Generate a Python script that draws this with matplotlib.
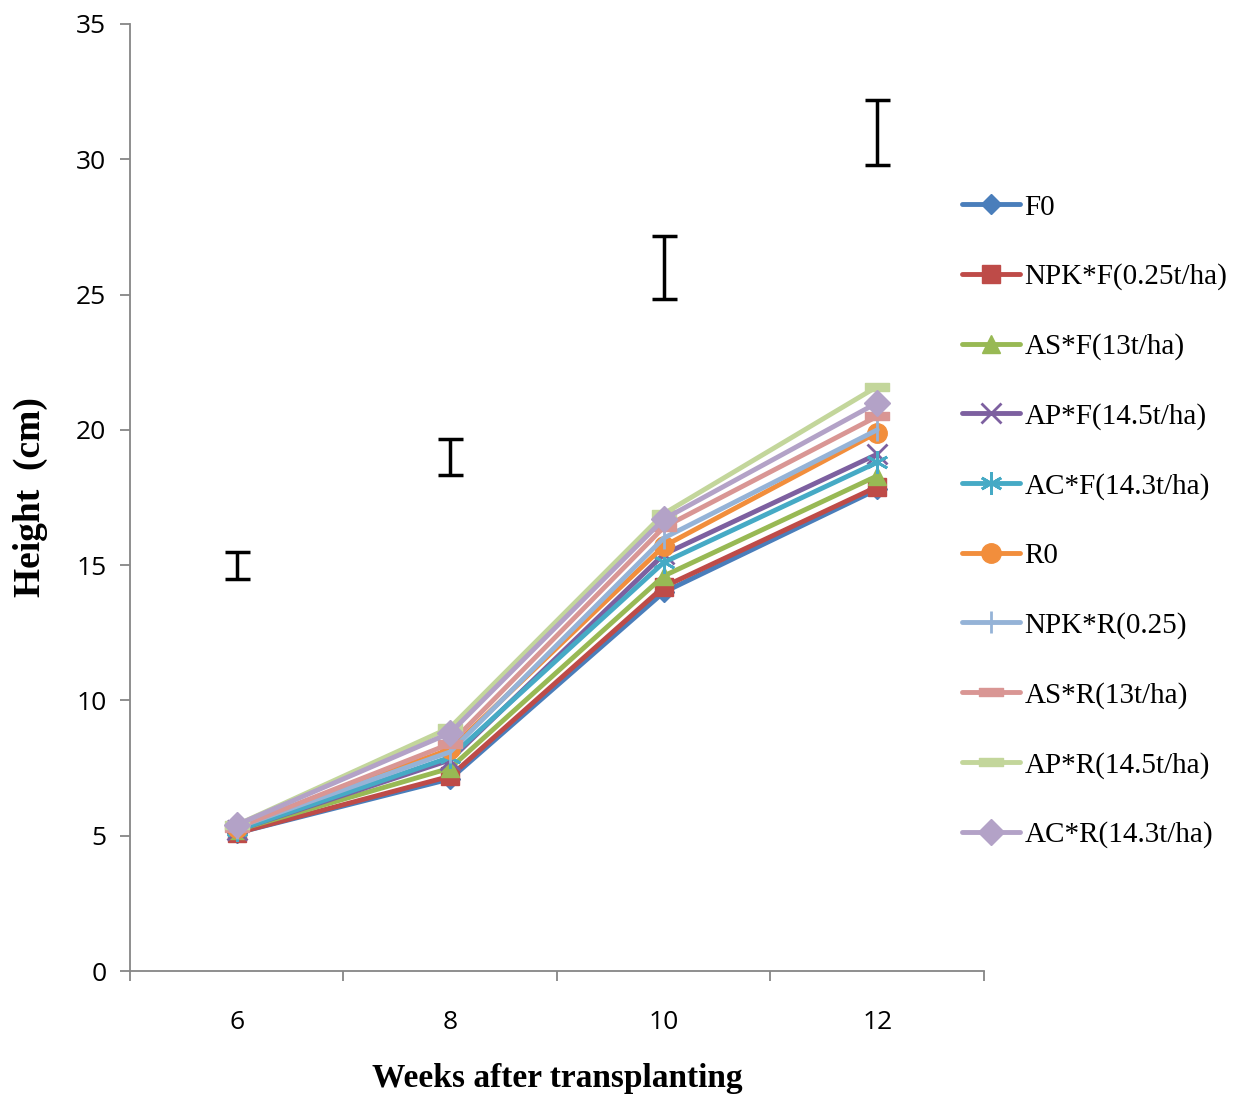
import matplotlib
matplotlib.use("Agg")
import matplotlib.pyplot as plt
import numpy as np
from matplotlib.path import Path

weeks = [6, 8, 10, 12]
labels = ["F0", "NPK*F(0.25t/ha)", "AS*F(13t/ha)", "AP*F(14.5t/ha)", "AC*F(14.3t/ha)",
          "R0", "NPK*R(0.25)", "AS*R(13t/ha)", "AP*R(14.5t/ha)", "AC*R(14.3t/ha)"]
F0 = [5.1, 7.1, 14.0, 17.8]
NPK_F = [5.1, 7.2, 14.2, 17.9]
AS_F = [5.2, 7.5, 14.6, 18.3]
AP_F = [5.2, 7.8, 15.4, 19.1]
AC_F = [5.2, 7.9, 15.1, 18.8]
R0 = [5.3, 8.2, 15.7, 19.9]
NPK_R = [5.3, 8.1, 16.0, 20.0]
AS_R = [5.3, 8.4, 16.4, 20.5]
AP_R = [5.4, 9.0, 16.9, 21.6]
AC_R = [5.4, 8.8, 16.7, 21.0]
series = [F0, NPK_F, AS_F, AP_F, AC_F, R0, NPK_R, AS_R, AP_R, AC_R]

lsd_center = [15.0, 19.0, 26.0, 31.0]
lsd_half = [0.5, 0.65, 1.15, 1.2]

colors = ["#4A7EBB", "#BE4B48", "#98B954", "#7D60A0", "#46AAC5",
          "#F28E3C", "#95B3D7", "#D99694", "#C3D69B", "#B3A2C7"]
dash = Path([(-1, -0.32), (1, -0.32), (1, 0.32), (-1, 0.32), (-1, -0.32)],
            [Path.MOVETO, Path.LINETO, Path.LINETO, Path.LINETO, Path.CLOSEPOLY])
markers = ["D", "s", "^", "x", (6, 2, 0), "o", "|", dash, dash, "D"]
msizes = [10, 13, 13, 14, 16, 14, 16, 17, 17, 13]

fig = plt.figure(figsize=(12.34, 10.95), dpi=100)
ax = fig.add_axes([0.1053, 0.1132, 0.6921, 0.8649])

handles = []
for s, c, m, ms, lab in zip(series, colors, markers, msizes, labels):
    mew = 2.0 if m in ("x", "|") or isinstance(m, tuple) else 1.0
    h, = ax.plot(weeks, s, color=c, lw=3.5, marker=m, ms=ms, mfc=c, mec=c, mew=mew,
                 label=lab, solid_capstyle="round")
    handles.append(h)

ax.errorbar(weeks, lsd_center, yerr=lsd_half, fmt="none", ecolor="black",
            elinewidth=2.5, capsize=9, capthick=2.5, zorder=5)

ax.set_xlim(5, 13)
ax.set_ylim(0, 35)
ax.set_yticks(np.arange(0, 36, 5))
ax.set_xticks([5, 7, 9, 11, 13])
ax.set_xticklabels([])
ax.set_xticks(weeks, minor=True)
ax.set_xticklabels([str(w) for w in weeks], minor=True)
for sp in ["top", "right"]:
    ax.spines[sp].set_visible(False)
for sp in ["left", "bottom"]:
    ax.spines[sp].set_color("#868686")
    ax.spines[sp].set_linewidth(1.3)
ax.tick_params(axis="both", which="major", direction="out", length=7, width=1.3,
               color="#868686", labelsize=19)
ax.tick_params(axis="x", which="minor", length=0, pad=28, labelsize=19)
ax.tick_params(axis="y", pad=10)
for t in ax.get_yticklabels() + ax.get_xticklabels(minor=True):
    t.set_fontfamily("Open Sans")

ax.set_xlabel("Weeks after transplanting", fontsize=24, fontweight="bold",
              fontfamily="Liberation Serif", labelpad=20)
ax.set_ylabel("Height  (cm)", fontsize=27, fontweight="bold",
              fontfamily="Liberation Serif", labelpad=20)

leg = fig.legend(handles=handles, loc="upper left", bbox_to_anchor=(0.7675, 0.836),
                 frameon=False, prop={"family": "Liberation Serif", "size": 21},
                 handlelength=2.0, handletextpad=0.15, labelspacing=1.47, borderpad=0)

fig.savefig("out.png", dpi=100)
